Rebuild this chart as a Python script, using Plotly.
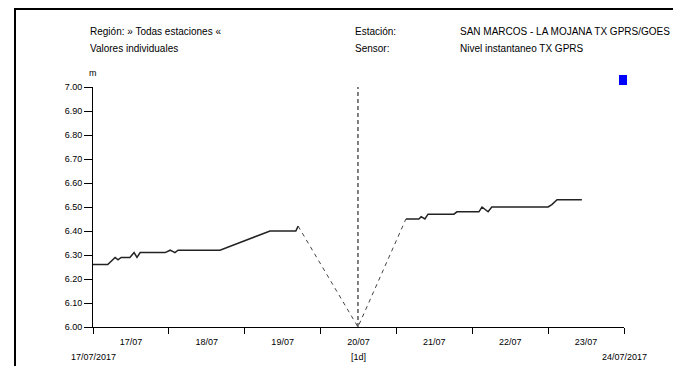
import plotly.graph_objects as go

# Data
seg1_time = ["2017-07-17 00:00", "2017-07-17 04:40", "2017-07-17 07:00", "2017-07-17 07:55",
             "2017-07-17 08:55", "2017-07-17 11:40", "2017-07-17 13:00", "2017-07-17 13:55",
             "2017-07-17 14:55", "2017-07-17 22:50", "2017-07-18 00:25", "2017-07-18 01:55",
             "2017-07-18 02:55", "2017-07-18 16:10", "2017-07-19 08:00", "2017-07-19 16:10",
             "2017-07-19 16:55"]
seg1_vals = [6.26, 6.26, 6.29, 6.28, 6.29, 6.29, 6.31, 6.29, 6.31, 6.31, 6.32, 6.31,
             6.32, 6.32, 6.40, 6.40, 6.42]

gap_time = ["2017-07-19 16:55", "2017-07-20 11:50", "2017-07-21 03:00"]
gap_vals = [6.42, 6.00, 6.45]

seg2_time = ["2017-07-21 03:00", "2017-07-21 07:05", "2017-07-21 07:50", "2017-07-21 09:00",
             "2017-07-21 10:00", "2017-07-21 18:10", "2017-07-21 19:10", "2017-07-22 02:05",
             "2017-07-22 03:05", "2017-07-22 05:00", "2017-07-22 06:10", "2017-07-23 00:00",
             "2017-07-23 01:10", "2017-07-23 02:50", "2017-07-23 10:40"]
seg2_vals = [6.45, 6.45, 6.46, 6.45, 6.47, 6.47, 6.48, 6.48, 6.50, 6.48, 6.50, 6.50,
             6.51, 6.53, 6.53]

marker_time = "2017-07-20 11:50"
x_start, x_end = "2017-07-17 00:00", "2017-07-24 00:00"
y_ticks = [6.00, 6.10, 6.20, 6.30, 6.40, 6.50, 6.60, 6.70, 6.80, 6.90, 7.00]

FONT = "Liberation Sans, Arial, sans-serif"

fig = go.Figure()
fig.add_trace(go.Scatter(x=gap_time, y=gap_vals, mode="lines",
                         line=dict(color="#444444", width=1, dash="4px,4px"),
                         hoverinfo="skip", showlegend=False))
fig.add_trace(go.Scatter(x=seg1_time, y=seg1_vals, mode="lines",
                         line=dict(color="#222222", width=1.5), showlegend=False))
fig.add_trace(go.Scatter(x=seg2_time, y=seg2_vals, mode="lines",
                         line=dict(color="#222222", width=1.5), showlegend=False))
fig.add_trace(go.Scatter(x=[marker_time, marker_time], y=[6.00, 7.00], mode="lines",
                         line=dict(color="#000000", width=1, dash="4px,3px"),
                         hoverinfo="skip", showlegend=False))

# page body adds an 8px offset; margins compensate so the plot area sits at x 93-624, y 87-327
fig.update_layout(
    width=681, height=366,
    margin=dict(l=85, r=65, t=79, b=47),
    paper_bgcolor="white", plot_bgcolor="white",
    font=dict(family=FONT, size=9, color="#000000"),
    xaxis=dict(range=[x_start, x_end], type="date", dtick=86400000, tick0=x_start,
               tickformat="%d/%m", ticklabelmode="period", ticks="outside", ticklen=6,
               tickcolor="#000", showline=True, linecolor="#000", linewidth=1,
               tickfont=dict(size=9), showgrid=False, zeroline=False, fixedrange=True),
    yaxis=dict(range=[6.00, 7.00], tickvals=y_ticks,
               ticktext=[f"{v:.2f}" for v in y_ticks], ticks="outside", ticklen=8,
               tickcolor="#000", showline=True, linecolor="#000", linewidth=1,
               tickfont=dict(size=9), showgrid=False, zeroline=False, fixedrange=True),
)

def py(p):
    return (327 - p) / 240

def px(p):
    return (p - 93) / 531

# Outer frame
fig.add_shape(type="rect", xref="paper", yref="paper",
              x0=px(15), x1=px(674), y0=py(390), y1=py(9),
              line=dict(color="#000", width=2), fillcolor="rgba(0,0,0,0)")
# Legend marker
fig.add_shape(type="rect", xref="paper", yref="paper",
              x0=px(619), x1=px(627), y0=py(85), y1=py(75),
              line=dict(width=0), fillcolor="#0000FF")

def txt(x, y, s, xref="paper", xanchor="left", size=10):
    fig.add_annotation(x=x, y=y, xref=xref, yref="paper", text=s, showarrow=False,
                       xanchor=xanchor, yanchor="middle", xshift=0,
                       font=dict(family=FONT, size=size), borderpad=0)

txt(px(89), py(32), "Región: » Todas estaciones «")
txt(px(89), py(49), "Valores individuales")
txt(px(354), py(32), "Estación:")
txt(px(354), py(49), "Sensor:")
txt(px(459), py(32), "SAN MARCOS - LA MOJANA TX GPRS/GOES")
txt(px(459), py(49), "Nivel instantaneo TX GPRS")
txt(px(88), py(73), "m", size=9)
txt(x_start, py(357), "17/07/2017", xref="x", xanchor="center", size=9)
txt("2017-07-20 12:00", py(357), "[1d]", xref="x", xanchor="center", size=9)
txt(x_end, py(357), "24/07/2017", xref="x", xanchor="center", size=9)

fig.write_html("out.html")
